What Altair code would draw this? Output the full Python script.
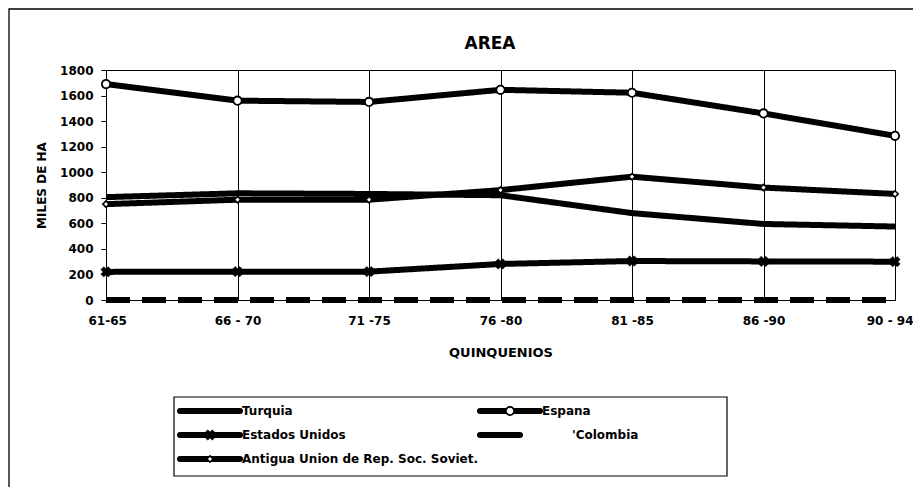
import altair as alt
import pandas as pd

# ---------------- data ----------------
categories = ["61-65", "66 - 70", "71 -75", "76 -80", "81 -85", "86 -90", "90 - 94"]
series_names = ["Turquia", "Espana", "Estados Unidos", "Colombia",
                "Antigua Union de Rep. Soc. Soviet."]
legend_labels = ["Turquia", "Espana", "Estados Unidos", "'Colombia",
                 "Antigua Union de Rep. Soc. Soviet."]

turquia = [805, 835, 830, 820, 680, 595, 575]
espana = [1690, 1560, 1550, 1645, 1622, 1460, 1285]
estados_unidos = [220, 222, 222, 282, 305, 302, 300]
colombia = [0, 0, 0, 0, 0, 0, 0]
antigua = [750, 785, 785, 860, 965, 880, 830]

series_values = [turquia, espana, estados_unidos, colombia, antigua]

rows = []
for name, vals in zip(series_names, series_values):
    for cat, v in zip(categories, vals):
        rows.append({"serie": name, "periodo": cat, "area": v})
df = pd.DataFrame(rows)

# ---------------- styles ----------------
FONT = "DejaVu Sans"
W, H = 789, 230
LINE_W = 6

marker_styles = {
    "Espana": dict(shape="circle", size=70, fill="white", strokeWidth=1.8, angle=0),
    "Estados Unidos": dict(shape="cross", size=110, fill="black", strokeWidth=0.5, angle=45),
    "Antigua Union de Rep. Soc. Soviet.": dict(shape="diamond", size=40, fill="white",
                                               strokeWidth=1.6, angle=0),
}
dash_range = [[1, 0], [1, 0], [1, 0], [24, 12], [1, 0]]

x_enc = alt.X(
    "periodo:N", sort=categories,
    scale=alt.Scale(type="point", padding=0),
    axis=alt.Axis(title="QUINQUENIOS", labelAngle=0, grid=True, gridColor="black",
                  gridOpacity=1, gridWidth=1, tickSize=0, labelPadding=15,
                  labelFlush=True, labelFlushOffset=18,
                  titlePadding=20, titleFontSize=13, domainColor="black"),
)
y_enc = alt.Y(
    "area:Q", scale=alt.Scale(domain=[0, 1800]),
    axis=alt.Axis(title="MILES DE HA", values=list(range(0, 1801, 200)), format="d",
                  grid=False, tickSize=5, tickColor="black", labelPadding=8,
                  titlePadding=11, domainColor="black"),
)

lines = alt.Chart(df).mark_line(
    color="black", strokeWidth=LINE_W, strokeCap="butt", strokeJoin="round"
).encode(
    x=x_enc, y=y_enc,
    strokeDash=alt.StrokeDash("serie:N",
                              scale=alt.Scale(domain=series_names, range=dash_range),
                              legend=None),
    detail="serie:N",
)

point_layers = []
for name, st in marker_styles.items():
    point_layers.append(
        alt.Chart(df).transform_filter(alt.datum.serie == name).mark_point(
            shape=st["shape"], size=st["size"], filled=True, fill=st["fill"],
            stroke="black", strokeWidth=st["strokeWidth"], angle=st["angle"], opacity=1
        ).encode(x=x_enc, y=y_enc)
    )

main = alt.layer(lines, *point_layers)

# ---------------- legend (pixel layout computed from index) ----------------
leg_rows = []
for i, (name, label) in enumerate(zip(series_names, legend_labels)):
    col, row = i % 2, i // 2
    x1 = 74 + 300 * col
    length = 40 if name == "Colombia" else 60
    leg_rows.append({
        "serie": name, "label": label,
        "lx1": x1, "lx2": x1 + length, "lmid": x1 + 30,
        "ltx": x1 + (92 if name == "Colombia" else 62),
        "ly": 341 + 24 * row,
    })
leg_df = pd.DataFrame(leg_rows)

one_row = alt.datum.serie == "Turquia"

leg_box = alt.Chart(leg_df).transform_filter(one_row).mark_rect(
    fill="white", stroke="black", strokeWidth=1.2
).encode(x=alt.value(68), x2=alt.value(621), y=alt.value(327), y2=alt.value(406))

leg_lines = alt.Chart(leg_df).mark_rule(color="black", strokeWidth=LINE_W, strokeCap="round").encode(
    x=alt.X("lx1:Q", scale=None), x2="lx2:Q", y=alt.Y("ly:Q", scale=None)
)
leg_text = alt.Chart(leg_df).mark_text(
    align="left", baseline="middle", font=FONT, fontWeight="bold", fontSize=12, color="black"
).encode(
    x=alt.X("ltx:Q", scale=None), y=alt.Y("ly:Q", scale=None), text="label:N"
)
leg_points = []
for name, st in marker_styles.items():
    leg_points.append(
        alt.Chart(leg_df).transform_filter(alt.datum.serie == name).mark_point(
            shape=st["shape"], size=st["size"], filled=True, fill=st["fill"],
            stroke="black", strokeWidth=st["strokeWidth"], angle=st["angle"], opacity=1
        ).encode(x=alt.X("lmid:Q", scale=None), y=alt.Y("ly:Q", scale=None))
    )

legend = alt.layer(leg_box, leg_lines, *leg_points, leg_text)

title = alt.Chart(leg_df).transform_filter(one_row).mark_text(
    text="AREA", font=FONT, fontSize=17, fontWeight="bold", color="black",
    align="center", baseline="middle"
).encode(x=alt.value(384), y=alt.value(-26))

frame = alt.Chart(leg_df).transform_filter(one_row).mark_rect(
    fill=None, stroke="black", strokeWidth=1.3
).encode(x=alt.value(-97), x2=alt.value(840), y=alt.value(-61), y2=alt.value(440))

chart = alt.layer(frame, main, legend, title).resolve_scale(
    x="independent", y="independent"
).properties(
    width=W, height=H,
    autosize=alt.AutoSizeParams(type="none"),
    padding={"left": 98, "top": 62, "right": 18, "bottom": 187},
).configure_view(
    stroke="black", strokeWidth=1
).configure_axis(
    labelFont=FONT, labelFontWeight="bold", labelFontSize=12, labelColor="black",
    titleFont=FONT, titleFontWeight="bold", titleFontSize=12, titleColor="black",
)

chart.save("out.html", embed_options={"renderer": "svg", "actions": False})
